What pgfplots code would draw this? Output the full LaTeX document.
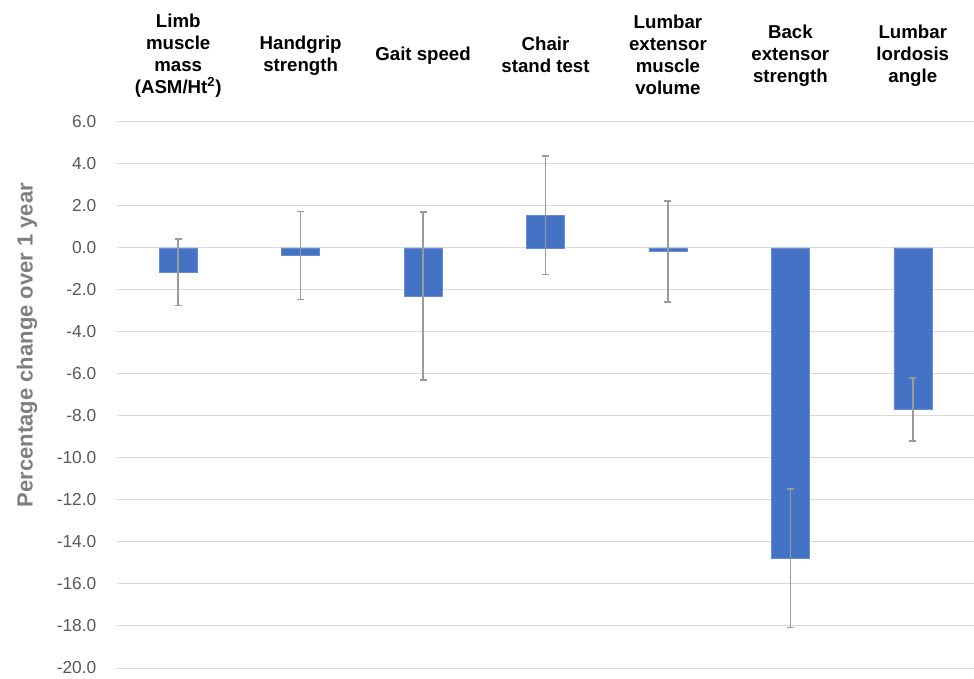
\documentclass[border=0pt]{standalone}
\usepackage{fontspec}
\setmainfont{Liberation Sans}
\usepackage{pgfplots}
\pgfplotsset{compat=1.18}
\definecolor{barblue}{HTML}{4472C4}
\definecolor{gridgray}{HTML}{D9D9D9}
\definecolor{tickgray}{HTML}{595959}
\definecolor{labelgray}{HTML}{7F7F7F}
\definecolor{errgray}{HTML}{9A9A9A}
\begin{document}
\begin{tikzpicture}
\begin{axis}[
  at={(0,0)}, anchor=south west,
  scale only axis,
  width=642.75pt, height=409.5pt,
  ymin=-20, ymax=6,
  ytick={-20,-18,...,6},
  xmin=-0.5, xmax=6.5,
  xtick={0,1,2,3,4,5,6},
  xticklabels={{Limb\\muscle\\mass\\(ASM/Ht\textsuperscript{2})},{Handgrip\\strength},{Gait speed},{Chair\\stand test},{Lumbar\\extensor\\muscle\\volume},{Back\\extensor\\strength},{Lumbar\\lordosis\\angle}},
  xticklabel pos=upper,
  xticklabel style={align=center, anchor=center, yshift=50pt, font=\bfseries\fontsize{14}{16.5}\selectfont, text=black},
  ymajorgrids,
  grid style={draw=gridgray, line width=0.75pt},
  axis line style={draw=none},
  major tick length=0pt,
  yticklabel style={font=\fontsize{13}{15}\selectfont, text=tickgray, xshift=-12pt},
  /pgf/number format/fixed,
  /pgf/number format/fixed zerofill,
  /pgf/number format/precision=1,
  /pgf/number format/assume math mode=true,
  ylabel={Percentage change over 1 year},
  ylabel style={at={(axis description cs:0,0.5916)}, anchor=center, yshift=67.5pt, font=\bfseries\fontsize{16.5}{20}\selectfont, text=labelgray},
  clip=false,
]
\addplot[ybar, bar width=28.5pt, bar shift=0pt, fill=barblue, draw=barblue!80!white,
  error bars/.cd, y dir=both, y explicit,
  error bar style={line width=1.1pt, draw=errgray},
  error mark options={rotate=90, mark size=2.6pt, line width=1.1pt, draw=errgray}]
table[x=x, y=y, y error=e]{
x y e
0 -1.16 1.59
1 -0.35 2.10
2 -2.29 4.00
3 1.56 2.81
4 -0.17 2.40
5 -14.78 3.30
6 -7.70 1.50
};
\end{axis}
\pgfresetboundingbox
\path[use as bounding box] (-87.75pt,-7.5pt) rectangle (642.75pt,501pt);
\end{tikzpicture}
\end{document}
